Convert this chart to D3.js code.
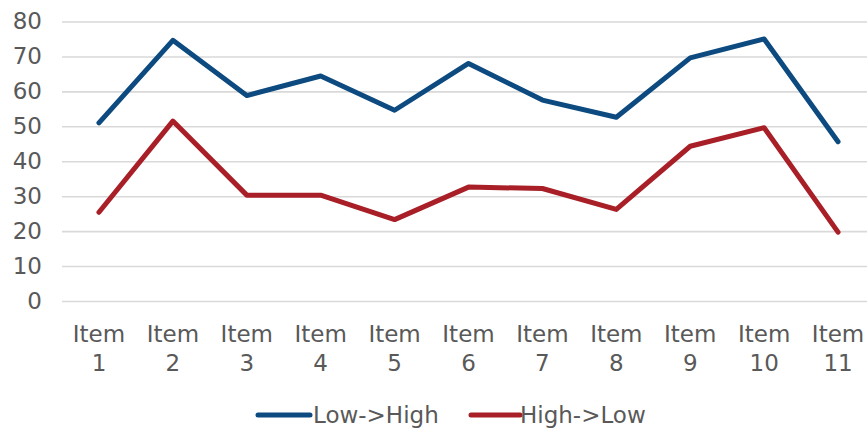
<!DOCTYPE html>
<html>
<head>
<meta charset="utf-8">
<script src="https://cdn.jsdelivr.net/npm/d3@7"></script>
<style>
  html, body { margin: 0; padding: 0; background: #fff; }
  svg { display: block; }
  text { font-family: "DejaVu Sans", Verdana, sans-serif; }
</style>
</head>
<body>
<svg id="chart" width="867" height="428"></svg>
<script>
const categories = ["Item 1","Item 2","Item 3","Item 4","Item 5","Item 6","Item 7","Item 8","Item 9","Item 10","Item 11"];
const lowHigh = [51, 74.6, 58.8, 64.4, 54.6, 68.0, 57.5, 52.6, 69.6, 75.0, 45.6];
const highLow = [25.4, 51.5, 30.3, 30.3, 23.3, 32.6, 32.2, 26.2, 44.3, 49.6, 19.7];
const yTicks = [0, 10, 20, 30, 40, 50, 60, 70, 80];
const seriesNames = ["Low->High", "High->Low"];
const seriesColors = ["#0c4a80", "#a81f27"];

const W = 867, H = 428;
const FS = 23;
const svg = d3.select("#chart");
const x = d3.scaleBand().domain(categories).range([62, 875]);
const y = d3.scaleLinear().domain([0, 80]).range([301, 21.5]);
const textColor = "#595959";

// gridlines + y labels
const yAxis = svg.append("g")
  .attr("transform", "translate(62,0)")
  .call(d3.axisLeft(y).tickValues(yTicks).tickSize(-(W - 62)).tickPadding(20).tickFormat(d3.format("d")));
yAxis.select(".domain").remove();
yAxis.selectAll(".tick line").attr("stroke", "#d9d9d9").attr("stroke-width", 1.6);
yAxis.selectAll(".tick text")
  .attr("fill", textColor).attr("font-size", FS)
  .attr("font-family", '"DejaVu Sans", Verdana, sans-serif');

// x labels
const xAxis = svg.append("g")
  .attr("transform", "translate(0,301)")
  .call(d3.axisBottom(x).tickSize(0).tickFormat(""));
xAxis.select(".domain").remove();
xAxis.selectAll(".tick").each(function(d) {
  const parts = d.split(" ");
  const t = d3.select(this).select("text")
    .attr("fill", textColor).attr("font-size", FS)
    .attr("font-family", '"DejaVu Sans", Verdana, sans-serif')
    .attr("text-anchor", "middle").attr("y", 0).attr("dy", null);
  t.text(null);
  t.append("tspan").attr("x", 0).attr("y", 41).text(parts[0]);
  t.append("tspan").attr("x", 0).attr("y", 70).text(parts[1]);
});

// lines
const line = d3.line()
  .x((d, i) => x(categories[i]) + x.bandwidth() / 2)
  .y(d => y(d));
[lowHigh, highLow].forEach((vals, k) => {
  svg.append("path")
    .datum(vals)
    .attr("d", line)
    .attr("fill", "none")
    .attr("stroke", seriesColors[k])
    .attr("stroke-width", 5)
    .attr("stroke-linejoin", "round")
    .attr("stroke-linecap", "round");
});

// legend
const legendItems = [
  { x0: 258, x1: 310, tx: 313 },
  { x0: 471, x1: 520, tx: 520 }
];
legendItems.forEach((L, k) => {
  svg.append("line")
    .attr("x1", L.x0).attr("x2", L.x1).attr("y1", 415).attr("y2", 415)
    .attr("stroke", seriesColors[k]).attr("stroke-width", 5)
    .attr("stroke-linecap", "round");
  svg.append("text")
    .attr("x", L.tx).attr("y", 415).attr("dy", "0.36em")
    .attr("fill", textColor).attr("font-size", FS)
    .text(seriesNames[k]);
});
</script>
</body>
</html>
